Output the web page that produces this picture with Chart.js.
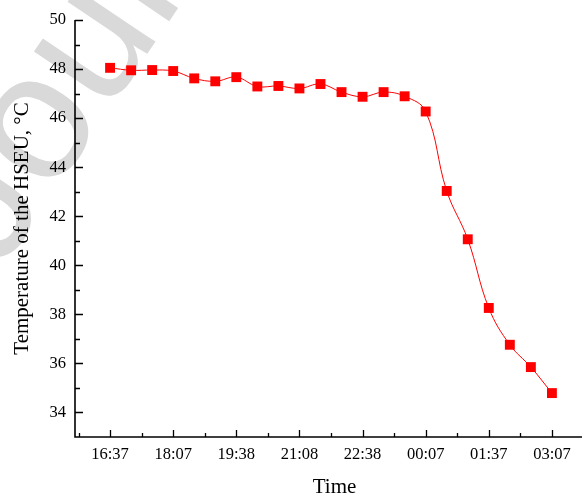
<!DOCTYPE html>
<html>
<head>
<meta charset="utf-8">
<script src="https://cdn.jsdelivr.net/npm/chart.js@4.4.1/dist/chart.umd.min.js"></script>
<style>
  html, body { margin: 0; padding: 0; background: #fff; overflow: hidden; }
  #wrap { width: 582px; height: 495px; overflow: hidden; }
</style>
</head>
<body>
<div id="wrap"><canvas id="c" width="601" height="495"></canvas></div>
<script>
// ---- data ----
const timeLabels = ['16:37', '18:07', '19:38', '21:08', '22:38', '00:07', '01:37', '03:07'];
const sampleIndex = [0, 1, 2, 3, 4, 5, 6, 7, 8, 9, 10, 11, 12, 13, 14, 15, 16, 17, 18, 19, 20, 21];
const temperature = [48.05, 47.95, 47.96, 47.92, 47.62, 47.50, 47.67, 47.29, 47.31, 47.21, 47.39,
                     47.06, 46.87, 47.06, 46.89, 46.27, 43.03, 41.06, 38.26, 36.76, 35.85, 34.79];
const yTickValues = [34, 36, 38, 40, 42, 44, 46, 48, 50];
const xTitle = 'Time';
const yTitle = 'Temperature of the HSEU, °C';
const watermarkText = 'Journal Pre-proof';

const SERIF = '"Liberation Serif", "Times New Roman", serif';
Chart.defaults.font.family = SERIF;
Chart.defaults.color = '#000';

const watermark = {
  id: 'watermark',
  beforeDraw(chart) {
    const ctx = chart.ctx;
    ctx.save();
    ctx.translate(0, 272);
    ctx.rotate(-56 * Math.PI / 180);
    ctx.fillStyle = '#d9d9d9';
    ctx.font = '180px "Liberation Sans", Arial, sans-serif';
    ctx.textBaseline = 'alphabetic';
    ctx.fillText(watermarkText, 0, 0);
    ctx.restore();
  }
};

const innerTicks = {
  id: 'innerTicks',
  afterDraw(chart) {
    const ctx = chart.ctx;
    const x = chart.scales.x, y = chart.scales.y;
    const area = chart.chartArea;
    ctx.save();
    ctx.strokeStyle = '#000';
    ctx.lineWidth = 1.3;
    ctx.beginPath();
    for (let v = 0; v <= 21; v += 3) {
      const px = Math.round(x.getPixelForValue(v)) + 0.5;
      ctx.moveTo(px, area.bottom); ctx.lineTo(px, area.bottom - 7);
    }
    for (let v = -1.5; v <= 22.5; v += 3) {
      const px = Math.round(x.getPixelForValue(v)) + 0.5;
      ctx.moveTo(px, area.bottom); ctx.lineTo(px, area.bottom - 4);
    }
    for (const v of yTickValues) {
      const py = Math.round(y.getPixelForValue(v)) + 0.5;
      ctx.moveTo(area.left, py); ctx.lineTo(area.left + 8, py);
    }
    for (let v = 35; v <= 49; v += 2) {
      const py = Math.round(y.getPixelForValue(v)) + 0.5;
      ctx.moveTo(area.left, py); ctx.lineTo(area.left + 5, py);
    }
    ctx.stroke();
    ctx.lineWidth = 1.6;
    ctx.beginPath();
    ctx.moveTo(area.left, y.getPixelForValue(50));
    ctx.lineTo(area.left, area.bottom);
    ctx.lineTo(area.right, area.bottom);
    ctx.stroke();
    ctx.restore();
  }
};

new Chart(document.getElementById('c'), {
  type: 'line',
  data: {
    datasets: [{
      data: sampleIndex.map((xi, i) => ({ x: xi, y: temperature[i] })),
      borderColor: '#ff0000',
      backgroundColor: '#ff0000',
      borderWidth: 1,
      pointStyle: 'rect',
      pointRadius: 7,
      pointBorderWidth: 0,
      pointBackgroundColor: '#ff0000',
      tension: 0.4,
      fill: false
    }]
  },
  options: {
    responsive: false,
    devicePixelRatio: 1,
    animation: false,
    events: [],
    layout: { padding: { left: 0, right: 0, top: 20, bottom: 0 } },
    plugins: { legend: { display: false }, tooltip: { enabled: false } },
    scales: {
      x: {
        type: 'linear',
        min: -1.667,
        max: 23,
        afterBuildTicks(scale) {
          scale.ticks = timeLabels.map((_, i) => ({ value: i * 3 }));
        },
        afterFit(scale) { scale.height = 58; },
        grid: { display: false, drawTicks: false },
        border: { display: false },
        ticks: {
          autoSkip: false,
          maxRotation: 0,
          padding: 8,
          color: '#000',
          font: { family: SERIF, size: 16.5 },
          callback: (v) => timeLabels[Math.round(v / 3)]
        },
        title: {
          display: true,
          text: xTitle,
          color: '#000',
          font: { family: SERIF, size: 21, lineHeight: 0.75 },
          padding: { top: 0, bottom: 0 }
        }
      },
      y: {
        type: 'linear',
        min: 33,
        max: 50,
        afterBuildTicks(scale) {
          scale.ticks = yTickValues.map(v => ({ value: v }));
        },
        afterFit(scale) { scale.width = 75; },
        grid: { display: false, drawTicks: false },
        border: { display: false },
        ticks: {
          padding: 9,
          color: '#000',
          font: { family: SERIF, size: 16.5 }
        },
        title: {
          display: true,
          text: yTitle,
          color: '#000',
          font: { family: SERIF, size: 21, lineHeight: 1 },
          padding: { top: 12, bottom: 0 }
        }
      }
    }
  },
  plugins: [watermark, innerTicks]
});
</script>
</body>
</html>
